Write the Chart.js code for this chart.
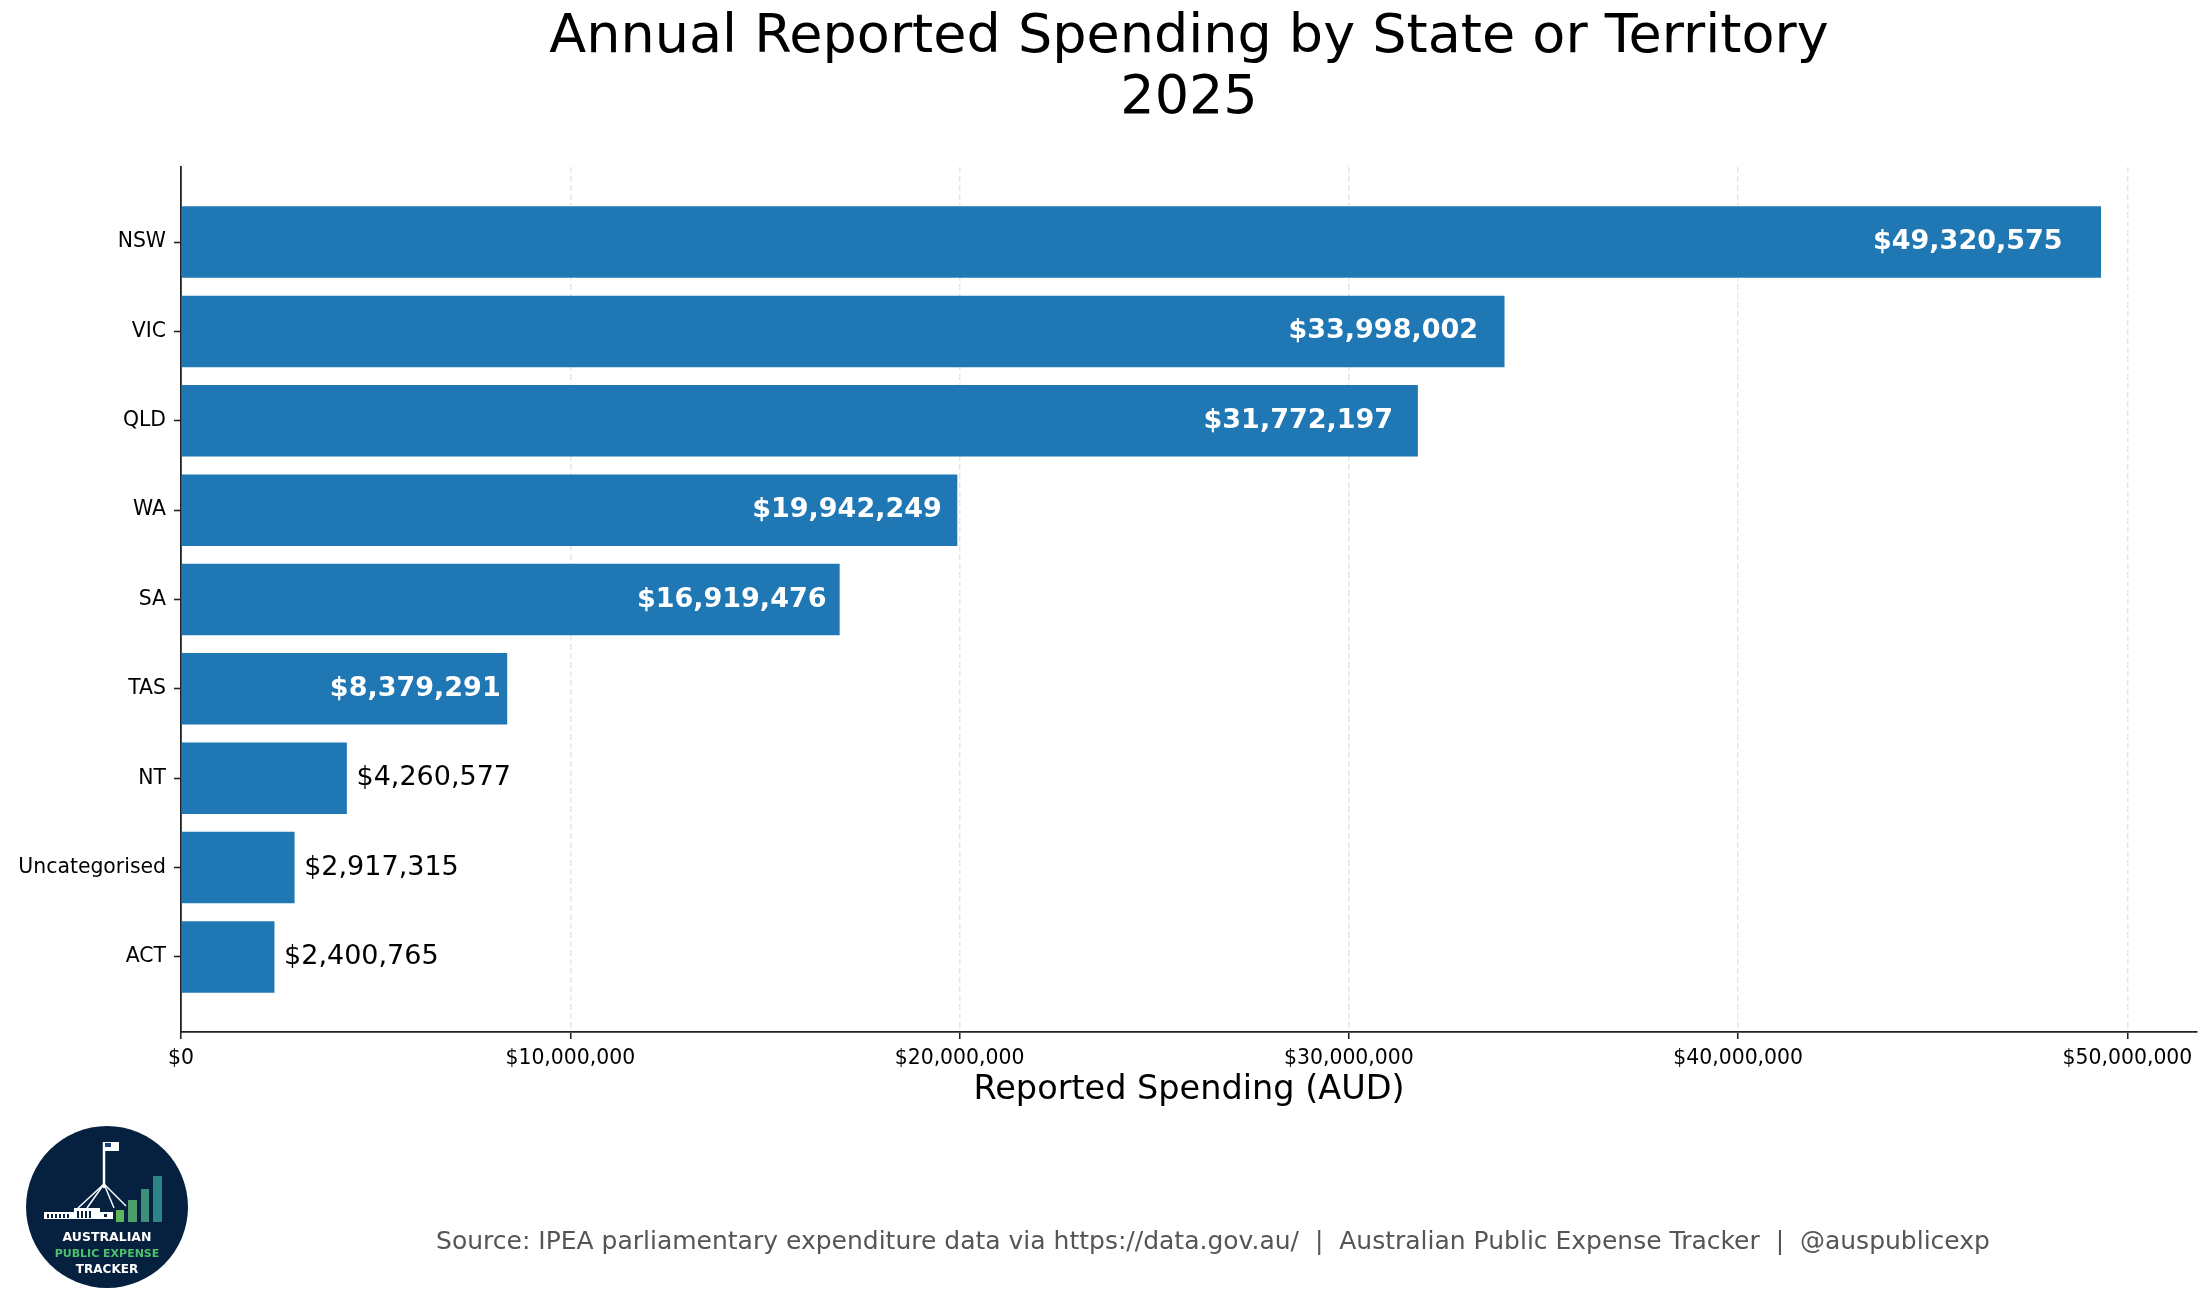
<!DOCTYPE html>
<html>
<head>
<meta charset="utf-8">
<title>Annual Reported Spending by State or Territory 2025</title>
<script src="https://cdn.jsdelivr.net/npm/chart.js@4.4.1/dist/chart.umd.min.js"></script>
<style>
  html, body { margin: 0; padding: 0; background: #fff; }
  #wrap { position: relative; width: 2211px; height: 1310px; overflow: hidden; font-family: 'DejaVu Sans', sans-serif; }
  #chart { position: absolute; left: 0; top: 0; }
  #source { position: absolute; left: 1213px; top: 1240px; transform: translate(-50%, -50%); color: #555; font-size: 25px; white-space: pre; }
  #logo { position: absolute; left: 26px; top: 1126px; width: 162px; height: 162px; }
</style>
</head>
<body>
<div id="wrap">
  <canvas id="chart" width="2211" height="1310"></canvas>

  <svg id="logo" viewBox="0 0 162 162" xmlns="http://www.w3.org/2000/svg">
    <circle cx="81" cy="81" r="81" fill="#06203f"/>
    <!-- flag pole + flag -->
    <line x1="78" y1="16" x2="78" y2="62" stroke="#fff" stroke-width="2.5"/>
    <rect x="78" y="16" width="15" height="9" fill="#fff"/>
    <rect x="79" y="17" width="6" height="4" fill="#1c3f7a"/>
    <line x1="78" y1="58" x2="52" y2="82" stroke="#fff" stroke-width="1.5"/>
    <line x1="78" y1="58" x2="61" y2="82" stroke="#fff" stroke-width="1.5"/>
    <line x1="78" y1="58" x2="88" y2="82" stroke="#fff" stroke-width="1.5"/>
    <line x1="78" y1="58" x2="100" y2="80" stroke="#fff" stroke-width="1.5"/>
    <!-- building -->
    <rect x="18" y="86" width="69" height="7" fill="#fff"/>
    <rect x="48" y="82" width="26" height="11" fill="#fff"/>
    <g fill="#06203f">
      <rect x="21" y="88" width="2" height="4"/><rect x="25" y="88" width="2" height="4"/>
      <rect x="29" y="88" width="2" height="4"/><rect x="33" y="88" width="2" height="4"/>
      <rect x="37" y="88" width="2" height="4"/><rect x="41" y="88" width="2" height="4"/>
      <rect x="51" y="85" width="2" height="7"/><rect x="55" y="85" width="2" height="7"/>
      <rect x="59" y="85" width="2" height="7"/><rect x="63" y="85" width="2" height="7"/>
      <rect x="78" y="88" width="3" height="3"/>
    </g>
    <!-- growth bars -->
    <rect x="90" y="84" width="8" height="12" fill="#5cb45c"/>
    <rect x="102" y="74" width="9" height="22" fill="#4d9e6a"/>
    <rect x="115" y="63" width="8" height="33" fill="#3e8f76"/>
    <rect x="127" y="50" width="9" height="46" fill="#2b8585"/>
    <!-- name -->
    <g font-family="'DejaVu Sans', sans-serif" font-weight="bold" text-anchor="middle">
      <text x="81" y="115" font-size="12.5" fill="#fff">AUSTRALIAN</text>
      <text x="81" y="131" font-size="11" fill="#4cc06a">PUBLIC EXPENSE</text>
      <text x="81" y="147" font-size="12" fill="#fff">TRACKER</text>
    </g>
  </svg>

  <div id="source">Source: IPEA parliamentary expenditure data via https://data.gov.au/  |  Australian Public Expense Tracker  |  @auspublicexp</div>
</div>

<script>
//? Données du graphique.

const stateLabels = ["NSW", "VIC", "QLD", "WA", "SA", "TAS", "NT", "Uncategorised", "ACT"];
const spendingValues = [49320575, 33998002, 31772197, 19942249, 16919476, 8379291, 4260577, 2917315, 2400765];
const xTickValues = [0, 10000000, 20000000, 30000000, 40000000, 50000000];

const chartTitle = ["Annual Reported Spending by State or Territory", "2025"];
const xAxisTitle = "Reported Spending (AUD)";

//? -------------------------------------------------

const fontFamily = "'DejaVu Sans', sans-serif";
const spineColor = "#222222";
const maxValue = Math.max(...spendingValues);

const formatDollars = (v) => "$" + Math.round(v).toLocaleString("en-US");

//? Titre centré sur la zone du graphique (comme matplotlib).

const axesTitle = {
  id: "axesTitle",
  afterDraw(chart) {
    const { ctx, chartArea } = chart;
    const centerX = (chartArea.left + chartArea.right) / 2;
    ctx.save();
    ctx.font = "54px " + fontFamily;
    ctx.fillStyle = "#000000";
    ctx.textAlign = "center";
    ctx.textBaseline = "middle";
    chartTitle.forEach((line, i) => {
      ctx.fillText(line, centerX, 38 + i * 61);
    });
    ctx.restore();
  },
};

//? Étiquettes de valeur sur les barres (dans la barre si assez grande).

const barValueLabels = {
  id: "barValueLabels",
  afterDatasetsDraw(chart) {
    const { ctx } = chart;
    const xScale = chart.scales.x;
    const meta = chart.getDatasetMeta(0);

    ctx.save();
    ctx.textBaseline = "middle";
    meta.data.forEach((bar, i) => {
      const value = spendingValues[i];
      const text = formatDollars(value);
      if (value > maxValue * 0.1) {
        ctx.font = "bold 27px " + fontFamily;
        ctx.fillStyle = "#ffffff";
        ctx.textAlign = "right";
        ctx.fillText(text, xScale.getPixelForValue(value * 0.98), bar.y);
      } else {
        ctx.font = "27px " + fontFamily;
        ctx.fillStyle = "#000000";
        ctx.textAlign = "left";
        ctx.fillText(text, xScale.getPixelForValue(value + maxValue * 0.005), bar.y);
      }
    });
    ctx.restore();
  },
};

//? Construction du graphique.

const constructionGraphique = () => {
  const ctx = document.getElementById("chart").getContext("2d");

  const data = {
    datasets: [
      {
        label: "Reported Spending",
        data: spendingValues.map((v, i) => ({ x: v, y: i })),
        backgroundColor: "#1f77b4",
        borderWidth: 0,
        categoryPercentage: 1,
        barPercentage: 0.8,
      },
    ],
  };

  const options = {
    responsive: false,
    devicePixelRatio: 1,
    animation: false,
    indexAxis: "y",
    layout: {
      padding: { left: 0, right: 14, top: 167, bottom: 200 },
    },
    plugins: {
      legend: { display: false },
      tooltip: { enabled: false },
      title: { display: false },
    },
    scales: {
      x: {
        type: "linear",
        position: "bottom",
        min: 0,
        max: maxValue * 1.05,
        afterBuildTicks: (scale) => {
          scale.ticks = xTickValues.map((v) => ({ value: v }));
        },
        afterFit: (scale) => {
          scale.height = 78;
        },
        ticks: {
          color: "#000000",
          font: { family: fontFamily, size: 20.4 },
          padding: 7,
          maxRotation: 0,
          autoSkip: false,
          callback: (v) => formatDollars(v),
        },
        grid: {
          color: "#e6e6e6",
          lineWidth: 1.5,
          drawTicks: true,
          tickLength: 7,
          tickColor: spineColor,
          tickWidth: 1.6,
          tickBorderDash: [],
        },
        border: { display: true, color: spineColor, width: 1.8, dash: [6, 3] },
        title: {
          display: true,
          text: xAxisTitle,
          color: "#000000",
          font: { family: fontFamily, size: 33.5 },
          padding: { top: 4, bottom: 0 },
        },
      },
      y: {
        type: "linear",
        position: "left",
        reverse: true,
        offset: false,
        min: -0.84,
        max: 8.84,
        afterBuildTicks: (scale) => {
          scale.ticks = stateLabels.map((_, i) => ({ value: i }));
        },
        afterFit: (scale) => {
          scale.width = 181;
        },
        ticks: {
          color: "#000000",
          font: { family: fontFamily, size: 20.4 },
          padding: 8,
          autoSkip: false,
          callback: (v) => stateLabels[v] ?? "",
        },
        grid: {
          offset: false,
          drawOnChartArea: false,
          drawTicks: true,
          tickLength: 7,
          tickColor: spineColor,
          tickWidth: 1.6,
          tickBorderDash: [],
        },
        border: { display: true, color: spineColor, width: 1.8 },
      },
    },
  };

  new Chart(ctx, {
    type: "bar",
    data,
    options,
    plugins: [barValueLabels, axesTitle],
  });
};

constructionGraphique();
</script>
</body>
</html>
